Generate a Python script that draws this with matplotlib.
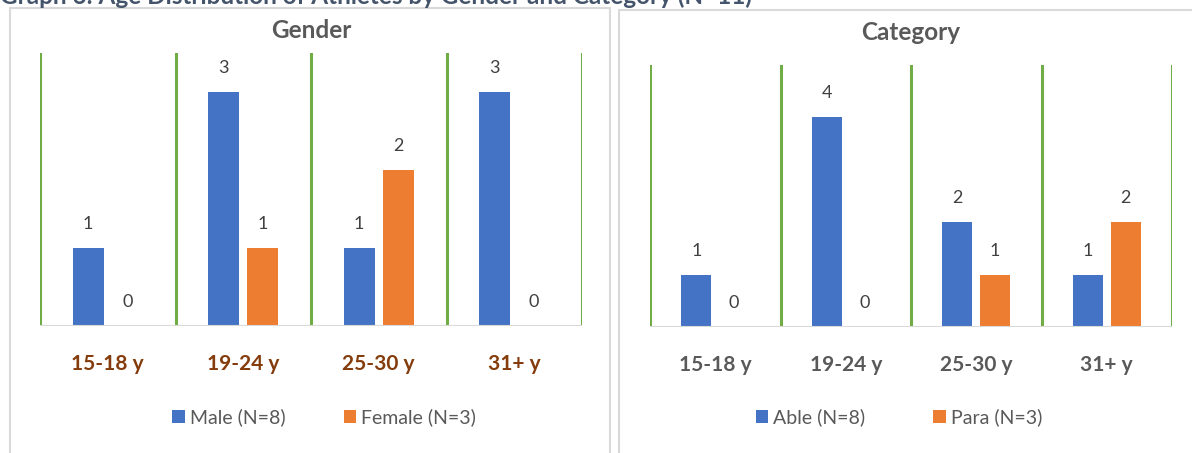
import matplotlib
matplotlib.use("Agg")
import matplotlib.pyplot as plt
import numpy as np
from matplotlib.patches import Rectangle

plt.rcParams["font.family"] = ["Lato", "DejaVu Sans"]

# data
age_groups = ["15-18 y", "19-24 y", "25-30 y", "31+ y"]
male = [1, 3, 1, 3]
female = [0, 1, 2, 0]
able = [1, 4, 2, 1]
para = [0, 0, 1, 2]

gender_labels = ["Male (N=8)", "Female (N=3)"]
category_labels = ["Able (N=8)", "Para (N=3)"]

BLUE = "#4472C4"
ORANGE = "#ED7D31"
GREEN = "#70AD47"
GRAY = "#595959"

fig = plt.figure(figsize=(11.92, 4.53), dpi=100)
W, H = 1192, 453


def fig_rect(x0, y0, x1, y1):
    # pixel box -> figure coords [left, bottom, width, height]
    return [x0 / W, 1 - y1 / H, (x1 - x0) / W, (y1 - y0) / H]


# panel borders
for x0, y0, x1 in [(10, 8, 610), (619, 10, 1200)]:
    fig.patches.append(Rectangle((x0 / W, -0.1), (x1 - x0) / W, 1.1 - y0 / H,
                                 transform=fig.transFigure, fill=False,
                                 edgecolor="#D9D9D9", linewidth=1.5))

fig.text(0.0, 1 - 4 / H, "Graph 6: Age Distribution of Athletes by Gender and Category (N=11)",
         fontsize=17.5, fontweight="bold", color="#44546A", ha="left", va="baseline")


def draw_panel(rect, s1, s2, labels, title, title_y, ymax, tick_color, leg_x, colsp):
    ax = fig.add_axes(rect)
    x = np.arange(len(age_groups))
    w = 0.23
    off = 0.145
    b1 = ax.bar(x - off, s1, w, color=BLUE, label=labels[0])
    b2 = ax.bar(x + off, s2, w, color=ORANGE, label=labels[1])
    unit = ymax / rect[3] / H  # data units per pixel
    for bars in (b1, b2):
        for b in bars:
            h = b.get_height()
            ax.text(b.get_x() + b.get_width() / 2, h + 24 * unit, f"{h:.0f}",
                    ha="center", va="center", fontsize=13, color="#404040")
    ax.set_xlim(-0.5, len(age_groups) - 0.5)
    ax.set_ylim(0, ymax)
    for xv in np.arange(-0.5, len(age_groups), 1.0):
        ax.axvline(xv, color=GREEN, linewidth=2.2, zorder=0)
    ax.axhline(0, color="#D9D9D9", linewidth=1.5, zorder=1)
    for sp in ax.spines.values():
        sp.set_visible(False)
    ax.set_yticks([])
    ax.set_xticks(x)
    ax.set_xticklabels(age_groups, fontsize=15, fontweight="bold", color=tick_color)
    ax.tick_params(axis="x", length=0, pad=20)
    fig.text(rect[0] + rect[2] / 2, 1 - title_y / H, title, fontsize=17.5,
             fontweight="bold", color=GRAY, ha="center", va="center")
    fig.legend(handles=[b1, b2], loc="center", bbox_to_anchor=(leg_x / W, 1 - 417 / H),
               ncol=2, frameon=False, fontsize=14, handlelength=0.65, handleheight=0.65,
               handletextpad=0.25, columnspacing=colsp, labelcolor=GRAY)
    return ax


draw_panel(fig_rect(40, 53, 582, 326), male, female, gender_labels, "Gender", 30, 3.5,
           "#843C0C", 324, 3.0)
draw_panel(fig_rect(650, 65, 1172, 327), able, para, category_labels, "Category", 33, 5.0,
           GRAY, 899, 3.5)

fig.savefig("out.png", dpi=100)
